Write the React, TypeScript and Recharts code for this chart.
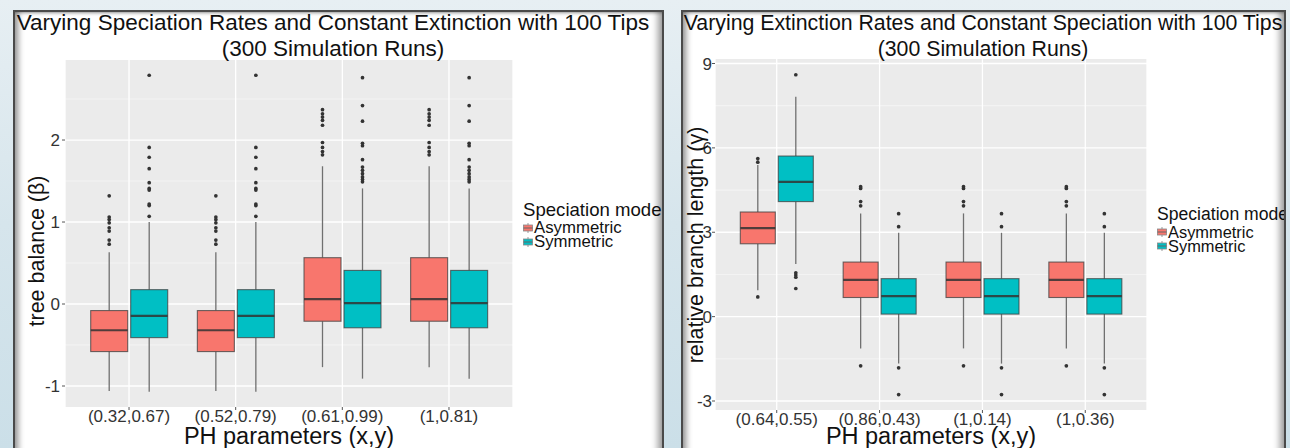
import React from 'react';
import { BarChart, Bar, XAxis, YAxis, CartesianGrid, Legend } from 'recharts';

const FONT = '"Liberation Sans", Arial, Helvetica, sans-serif';
const ASYM_COLOR = '#F8766D';
const SYM_COLOR = '#00BFC4';
const SERIES_NAMES = ['Asymmetric', 'Symmetric'];

// ---------- Left panel: varying speciation ----------
const leftCategories = ['(0.32,0.67)', '(0.52,0.79)', '(0.61,0.99)', '(1,0.81)'];
const leftAsymLower = [-1.06, -1.06, -0.77, -0.77];
const leftAsymQ1 = [-0.58, -0.58, -0.21, -0.21];
const leftAsymMedian = [-0.32, -0.32, 0.06, 0.06];
const leftAsymQ3 = [-0.08, -0.08, 0.565, 0.565];
const leftAsymUpper = [0.63, 0.63, 1.68, 1.68];
const leftAsymOutliers = [
  [1.32, 1.06, 1.03, 0.99, 0.93, 0.89, 0.78, 0.73],
  [1.32, 1.06, 1.03, 0.99, 0.93, 0.89, 0.78, 0.73],
  [2.37, 2.32, 2.28, 2.24, 2.18, 1.97, 1.91, 1.86, 1.82],
  [2.37, 2.32, 2.28, 2.24, 2.18, 1.97, 1.91, 1.86, 1.82],
];
const leftSymLower = [-1.07, -1.07, -0.91, -0.91];
const leftSymQ1 = [-0.41, -0.41, -0.29, -0.29];
const leftSymMedian = [-0.145, -0.145, 0.01, 0.01];
const leftSymQ3 = [0.175, 0.175, 0.41, 0.41];
const leftSymUpper = [1.0, 1.0, 1.41, 1.41];
const leftSymOutliers = [
  [2.79, 1.91, 1.79, 1.65, 1.48, 1.41, 1.39, 1.22, 1.2, 1.07],
  [2.79, 1.91, 1.79, 1.65, 1.48, 1.41, 1.39, 1.22, 1.2, 1.07],
  [2.76, 2.42, 2.23, 1.96, 1.93, 1.76, 1.67, 1.63, 1.59, 1.55, 1.52, 1.49],
  [2.76, 2.42, 2.23, 1.96, 1.93, 1.76, 1.67, 1.63, 1.59, 1.55, 1.52, 1.49],
];
const leftMajorTicks = [-1, 0, 1, 2];
const leftMinorTicks = [-0.5, 0.5, 1.5, 2.5];

// ---------- Right panel: varying extinction ----------
const rightCategories = ['(0.64,0.55)', '(0.86,0.43)', '(1,0.14)', '(1,0.36)'];
const rightAsymLower = [0.94, -1.13, -1.13, -1.13];
const rightAsymQ1 = [2.59, 0.68, 0.68, 0.68];
const rightAsymMedian = [3.15, 1.31, 1.31, 1.31];
const rightAsymQ3 = [3.72, 1.94, 1.94, 1.94];
const rightAsymUpper = [5.39, 3.67, 3.67, 3.67];
const rightAsymOutliers = [
  [5.62, 5.49, 0.7],
  [4.62, 4.56, 4.09, 3.94, -1.75],
  [4.62, 4.56, 4.09, 3.94, -1.75],
  [4.62, 4.56, 4.09, 3.94, -1.75],
];
const rightSymLower = [1.87, -1.67, -1.67, -1.67];
const rightSymQ1 = [4.09, 0.09, 0.09, 0.09];
const rightSymMedian = [4.79, 0.73, 0.73, 0.73];
const rightSymQ3 = [5.71, 1.35, 1.35, 1.35];
const rightSymUpper = [7.82, 2.98, 2.98, 2.98];
const rightSymOutliers = [
  [8.6, 1.56, 1.48, 1.4, 1.0],
  [3.66, 3.2, -1.82, -2.77],
  [3.66, 3.2, -1.82, -2.77],
  [3.66, 3.2, -1.82, -2.77],
];
const rightMajorTicks = [-3, 0, 3, 6, 9];
const rightMinorTicks = [-1.5, 1.5, 4.5, 7.5];

type Stats = { lo: number[]; q1: number[]; med: number[]; q3: number[]; hi: number[]; out: number[][] };

function buildRows(cats: string[], a: Stats, s: Stats) {
  return cats.map((cat, i) => ({
    cat,
    aLo: a.lo[i], aQ1: a.q1[i], aMed: a.med[i], aQ3: a.q3[i], aHi: a.hi[i], aOut: a.out[i],
    sLo: s.lo[i], sQ1: s.q1[i], sMed: s.med[i], sQ3: s.q3[i], sHi: s.hi[i], sOut: s.out[i],
    aRange: [a.lo[i], a.hi[i]],
    sRange: [s.lo[i], s.hi[i]],
  }));
}

const leftRows = buildRows(
  leftCategories,
  { lo: leftAsymLower, q1: leftAsymQ1, med: leftAsymMedian, q3: leftAsymQ3, hi: leftAsymUpper, out: leftAsymOutliers },
  { lo: leftSymLower, q1: leftSymQ1, med: leftSymMedian, q3: leftSymQ3, hi: leftSymUpper, out: leftSymOutliers },
);
const rightRows = buildRows(
  rightCategories,
  { lo: rightAsymLower, q1: rightAsymQ1, med: rightAsymMedian, q3: rightAsymQ3, hi: rightAsymUpper, out: rightAsymOutliers },
  { lo: rightSymLower, q1: rightSymQ1, med: rightSymMedian, q3: rightSymQ3, hi: rightSymUpper, out: rightSymOutliers },
);

function makeBoxShape(prefix: 'a' | 's', fill: string) {
  return (props: any) => {
    const { x, y, width, height, payload } = props;
    if (!payload || !isFinite(x) || !isFinite(y) || !isFinite(height)) return <g />;
    const lo = payload[prefix + 'Lo'];
    const hi = payload[prefix + 'Hi'];
    const top = Math.min(y, y + height);
    const bottom = Math.max(y, y + height);
    const k = (bottom - top) / (hi - lo);
    const Y = (v: number) => top + (hi - v) * k;
    const cx = x + width / 2;
    const q1 = Y(payload[prefix + 'Q1']);
    const q3 = Y(payload[prefix + 'Q3']);
    const med = Y(payload[prefix + 'Med']);
    const outs: number[] = payload[prefix + 'Out'] || [];
    return (
      <g>
        <line x1={cx} x2={cx} y1={top} y2={q3} stroke="#707070" strokeWidth={1.3} />
        <line x1={cx} x2={cx} y1={q1} y2={bottom} stroke="#707070" strokeWidth={1.3} />
        <rect x={x} y={q3} width={width} height={q1 - q3} fill={fill} stroke="#3d3d3d" strokeOpacity={0.75} strokeWidth={1.1} />
        <line x1={x} x2={x + width} y1={med} y2={med} stroke="#333" strokeOpacity={0.85} strokeWidth={2.2} />
        {outs.map((v, i) => (
          <circle key={i} cx={cx} cy={Y(v)} r={1.85} fill="#333" />
        ))}
      </g>
    );
  };
}

const asymShape = makeBoxShape('a', ASYM_COLOR);
const symShape = makeBoxShape('s', SYM_COLOR);

function LegendKey({ color }: { color: string }) {
  return (
    <svg width={10} height={10} style={{ display: 'inline-block', verticalAlign: 'middle', marginRight: 1 }}>
      <line x1={5} x2={5} y1={0} y2={10} stroke="#999" strokeWidth={1} />
      <rect x={0.5} y={2} width={9} height={6} fill={color} stroke="#888" strokeWidth={0.8} />
      <line x1={0.5} x2={9.5} y1={5} y2={5} stroke="#666" strokeWidth={1} />
    </svg>
  );
}

function makeLegend(titleSize: number, itemSize: number) {
  return (props: any) => {
    const payload = props.payload || [];
    return (
      <div style={{ fontFamily: FONT, color: '#111', whiteSpace: 'nowrap' }}>
        <div style={{ fontSize: titleSize, lineHeight: '20px', marginBottom: 1 }}>Speciation mode</div>
        {payload.map((p: any) => (
          <div key={p.value} style={{ fontSize: itemSize, lineHeight: '14px', height: 14, display: 'flex', alignItems: 'center' }}>
            <LegendKey color={p.color} />
            <span>{p.value}</span>
          </div>
        ))}
      </div>
    );
  };
}

type PanelProps = {
  left: number;
  width: number;
  rows: any[];
  domain: [number, number];
  major: number[];
  minor: number[];
  margin: { top: number; right: number; bottom: number; left: number };
  yAxisWidth: number;
  xAxisHeight: number;
  xPad: number;
  barSize: number;
  yTickMargin: number;
  title1: string;
  title2: string;
  titleCenter: number;
  titleSize: number;
  yTitle: string;
  yTitleX: number;
  yTitleY: number;
  xTitleX: number;
  legendLeft: number;
  legendTop: number;
  legendTitleSize: number;
  legendItemSize: number;
};

const FRAME_TOP = 10;
const CHART_H = 438;

function Panel(p: PanelProps) {
  return (
    <div style={{ position: 'absolute', left: p.left, top: FRAME_TOP, width: p.width, height: 460, background: '#fff', overflow: 'hidden' }}>
      <div style={{ position: 'absolute', left: 0, top: 0 }}>
        <BarChart width={p.width} height={CHART_H} data={p.rows} margin={p.margin} barSize={p.barSize} barGap={3}>
          <CartesianGrid fill="#EBEBEB" stroke="#F6F6F6" strokeWidth={0.8} horizontalValues={p.minor} vertical={false} />
          <CartesianGrid stroke="#FFFFFF" strokeWidth={1.3} horizontalValues={p.major} />
          <XAxis
            dataKey="cat"
            type="category"
            axisLine={false}
            tickLine={{ stroke: '#555' }}
            tickSize={3}
            tickMargin={0}
            interval={0}
            height={p.xAxisHeight}
            padding={{ left: p.xPad, right: p.xPad }}
            tick={{ fill: '#333', fontSize: 17, fontFamily: FONT }}
          />
          <YAxis
            type="number"
            domain={p.domain}
            allowDataOverflow
            ticks={p.major}
            interval={0}
            axisLine={false}
            tickLine={{ stroke: '#555' }}
            tickSize={3}
            tickMargin={p.yTickMargin}
            width={p.yAxisWidth}
            tick={{ fill: '#333', fontSize: 17, fontFamily: FONT }}
          />
          <Legend
            layout="vertical"
            align="center"
            verticalAlign="middle"
            content={makeLegend(p.legendTitleSize, p.legendItemSize)}
            wrapperStyle={{ left: p.legendLeft, top: p.legendTop, width: 'auto' }}
          />
          <Bar dataKey="aRange" name={SERIES_NAMES[0]} fill={ASYM_COLOR} shape={asymShape} isAnimationActive={false} />
          <Bar dataKey="sRange" name={SERIES_NAMES[1]} fill={SYM_COLOR} shape={symShape} isAnimationActive={false} />
        </BarChart>
      </div>
      <div style={{ position: 'absolute', left: p.titleCenter - 400, width: 800, top: 0, textAlign: 'center', fontSize: p.titleSize, lineHeight: '26px', color: '#111', fontFamily: FONT, whiteSpace: 'nowrap' }}>
        {p.title1}
        <br />
        {p.title2}
      </div>
      <div
        style={{
          position: 'absolute', left: p.yTitleX - 200, top: p.yTitleY - 14, width: 400, height: 28,
          textAlign: 'center', fontSize: 21.5, lineHeight: '28px', color: '#111', fontFamily: FONT,
          transform: 'rotate(-90deg)', whiteSpace: 'nowrap',
        }}
      >
        {p.yTitle}
      </div>
      <div style={{ position: 'absolute', left: p.xTitleX - 200, width: 400, top: 415, textAlign: 'center', fontSize: 23.5, lineHeight: '22px', color: '#111', fontFamily: FONT, whiteSpace: 'nowrap' }}>
        PH parameters (x,y)
      </div>
      <div
        style={{
          position: 'absolute', left: 0, top: 0, right: 0, bottom: 0, pointerEvents: 'none',
          borderTop: '2px solid #4a4a4a', borderLeft: '2px solid #4a4a4a', borderRight: '2px solid #4a4a4a',
          boxShadow: 'inset 6px 0 6px -3px rgba(0,0,0,0.45), inset -7px 0 7px -3px rgba(0,0,0,0.4), inset 0 3px 3px -2px rgba(0,0,0,0.25)',
        }}
      />
    </div>
  );
}

export default function App() {
  return (
    <div
      style={{
        position: 'absolute', left: 0, top: 0, width: 1290, height: 448, overflow: 'hidden',
        background: 'linear-gradient(180deg, #e7eff3 0%, #d6e5ec 50%, #cbdfe8 100%)',
      }}
    >
      <Panel
        left={13}
        width={651}
        rows={leftRows}
        domain={[-1.256, 2.976]}
        major={leftMajorTicks}
        minor={leftMinorTicks}
        margin={{ top: 50, right: 151, bottom: 0, left: 0 }}
        yAxisWidth={52}
        xAxisHeight={41}
        xPad={10.7}
        barSize={37}
        yTickMargin={2}
        title1="Varying Speciation Rates and Constant Extinction with 100 Tips"
        title2="(300 Simulation Runs)"
        titleCenter={320}
        titleSize={22.5}
        yTitle="tree balance (β)"
        yTitleX={24}
        yTitleY={241}
        xTitleX={276}
        legendLeft={510}
        legendTop={190}
        legendTitleSize={18.6}
        legendItemSize={16.8}
      />
      <Panel
        left={681}
        width={605}
        rows={rightRows}
        domain={[-3.32, 9.16]}
        major={rightMajorTicks}
        minor={rightMinorTicks}
        margin={{ top: 49, right: 139, bottom: 0, left: 0 }}
        yAxisWidth={34}
        xAxisHeight={38}
        xPad={10.3}
        barSize={35}
        yTickMargin={0}
        title1="Varying Extinction Rates and Constant Speciation with 100 Tips"
        title2="(300 Simulation Runs)"
        titleCenter={302}
        titleSize={21.3}
        yTitle="relative branch length (γ)"
        yTitleX={15}
        yTitleY={235}
        xTitleX={250}
        legendLeft={476}
        legendTop={194}
        legendTitleSize={17.6}
        legendItemSize={16.4}
      />
    </div>
  );
}
